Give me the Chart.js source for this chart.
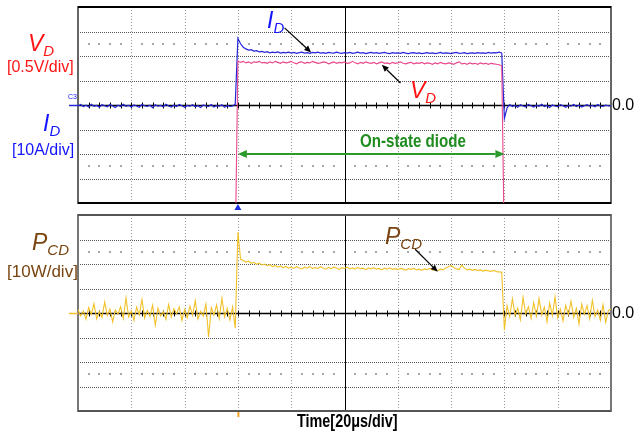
<!DOCTYPE html>
<html>
<head>
<meta charset="utf-8">
<script src="https://cdn.jsdelivr.net/npm/chart.js@4.4.1/dist/chart.umd.min.js"></script>
<style>
  body { margin: 0; background: #fff; }
  #wrap { position: relative; width: 635px; height: 436px; font-family: "Liberation Sans", Arial, sans-serif; }
  #wrap canvas { position: absolute; left: 0; }
  .lbl { position: absolute; white-space: nowrap; line-height: 1; }
  .sym { font-style: italic; font-size: 23px; }
  .sym sub { font-size: 15px; vertical-align: -5px; }
  .unit { font-size: 16px; }
  .red { color: #ff1414; }
  .blue { color: #1414ff; }
  .brown { color: #7a4510; }
  .zero { font-size: 16px; color: #000; }
  .tiny { font-size: 7px; }
  .narrow { transform: scaleX(0.84); transform-origin: 0 0; }
  #onstate { color: #1e8c1e; font-weight: bold; font-size: 18px; }
  #time { font-weight: bold; font-size: 18px; color: #000; transform: scaleX(0.8); }
</style>
</head>
<body>
<div id="wrap">
  <canvas id="topScope" width="635" height="212" style="top:0"></canvas>
  <canvas id="botScope" width="635" height="224" style="top:212px"></canvas>

  <div class="lbl sym red" style="left:28px;top:32px">V<sub>D</sub></div>
  <div class="lbl unit red" style="left:7px;top:59px">[0.5V/div]</div>
  <div class="lbl sym blue" style="left:43px;top:112px">I<sub>D</sub></div>
  <div class="lbl unit blue" style="left:12px;top:142px">[10A/div]</div>
  <div class="lbl tiny blue" style="left:68px;top:93px">C3</div>

  <div class="lbl sym brown" style="left:32px;top:231px">P<sub>CD</sub></div>
  <div class="lbl unit brown" style="left:7px;top:263px;font-size:17px">[10W/div]</div>

  <div class="lbl sym blue" style="left:267px;top:9px">I<sub>D</sub></div>
  <div class="lbl sym red" style="left:410px;top:79px">V<sub>D</sub></div>
  <div class="lbl sym brown" style="left:385px;top:225px">P<sub>CD</sub></div>
  <div class="lbl narrow" id="onstate" style="left:360px;top:132px">On-state diode</div>

  <div class="lbl zero" style="left:612px;top:97px">0.0</div>
  <div class="lbl zero" style="left:612px;top:305px">0.0</div>
  <div class="lbl narrow" id="time" style="left:297px;top:412px">Time[20μs/div]</div>
</div>

<script>
// scope record, one sample per microsecond, 0..200 us (10 div x 20 us)
const STEP_US = 1;

// diode current I_D [A]
const iD = [
  -0.4, 0.2, -0.6, -0.1, -0.8, 0.3, -0.5, -0.2, -0.9, 0.1,
  -0.3, -0.7, 0.2, -0.4, -1.0, -0.1, -0.6, 0.3, -0.5, -0.2,
  -0.8, 0.0, -0.4, -0.9, 0.2, -0.3, -0.6, -0.1, -1.1, 0.1,
  -0.5, -0.2, -0.7, 0.3, -0.4, -0.8, -0.1, -0.6, 0.2, -0.3,
  -0.9, -0.2, -0.5, 0.1, -0.7, -0.3, -1.0, 0.0, -0.4, -0.6,
  0.2, -0.8, -0.3, -0.5, 0.1, -0.9, -0.2, -0.6, -0.4, 0.3,
  27.2, 25.0, 23.6, 22.9, 22.4, 22.6, 22.0, 22.2, 21.7, 21.9,
  21.5, 21.8, 21.3, 21.6, 21.4, 21.7, 21.2, 21.5, 21.3, 21.6,
  21.2, 21.5, 21.1, 21.4, 21.6, 21.2, 21.4, 21.1, 21.5, 21.3,
  21.6, 21.2, 21.4, 21.1, 21.5, 21.3, 21.2, 21.6, 21.3, 21.1,
  21.4, 21.2, 21.5, 21.1, 21.3, 21.6, 21.2, 21.4, 21.0, 21.3,
  21.5, 21.2, 21.4, 21.1, 21.3, 21.5, 21.2, 21.0, 21.4, 21.2,
  21.3, 21.1, 21.5, 21.2, 21.0, 21.3, 21.4, 21.1, 21.3, 21.0,
  21.2, 21.4, 21.1, 21.3, 21.0, 21.2, 21.5, 21.1, 21.3, 21.2,
  21.0, 21.3, 21.5, 21.1, 21.2, 21.4, 21.0, 21.2, 21.3, 21.1,
  21.4, 21.2, 21.3, 21.1, 21.5, 21.2, 21.4, 21.3, 21.6, 21.2,
  -5.5, -1.2, 0.2, -0.6, -0.2, -0.9, 0.1, -0.4, -0.7, 0.2,
  -0.3, -0.8, -0.1, -0.5, 0.3, -0.6, -0.2, -1.0, 0.0, -0.4,
  -0.7, 0.1, -0.3, -0.9, -0.2, -0.5, 0.2, -0.6, -0.1, -0.8,
  -0.3, 0.1, -0.5, -0.2, -0.7, 0.2, -0.4, -0.6, -0.1, -0.3,
  -0.5
];

// diode voltage V_D [V]; blocking voltage is far below the screen
const vD = [
  -3.0, -3.0, -3.0, -3.0, -3.0, -3.0, -3.0, -3.0, -3.0, -3.0,
  -3.0, -3.0, -3.0, -3.0, -3.0, -3.0, -3.0, -3.0, -3.0, -3.0,
  -3.0, -3.0, -3.0, -3.0, -3.0, -3.0, -3.0, -3.0, -3.0, -3.0,
  -3.0, -3.0, -3.0, -3.0, -3.0, -3.0, -3.0, -3.0, -3.0, -3.0,
  -3.0, -3.0, -3.0, -3.0, -3.0, -3.0, -3.0, -3.0, -3.0, -3.0,
  -3.0, -3.0, -3.0, -3.0, -3.0, -3.0, -3.0, -3.0, -3.0, -3.0,
  0.90, 0.87, 0.89, 0.86, 0.88, 0.85, 0.88, 0.87, 0.89, 0.86,
  0.87, 0.85, 0.88, 0.86, 0.89, 0.87, 0.85, 0.88, 0.86, 0.87,
  0.89, 0.86, 0.84, 0.87, 0.88, 0.85, 0.87, 0.86, 0.89, 0.87,
  0.85, 0.86, 0.88, 0.87, 0.84, 0.86, 0.88, 0.85, 0.87, 0.86,
  0.88, 0.85, 0.86, 0.89, 0.86, 0.84, 0.87, 0.85, 0.88, 0.86,
  0.85, 0.87, 0.84, 0.86, 0.88, 0.85, 0.86, 0.84, 0.87, 0.85,
  0.86, 0.88, 0.85, 0.84, 0.86, 0.87, 0.84, 0.86, 0.85, 0.87,
  0.84, 0.86, 0.85, 0.83, 0.86, 0.84, 0.87, 0.85, 0.84, 0.86,
  0.85, 0.83, 0.86, 0.88, 0.84, 0.85, 0.83, 0.86, 0.84, 0.85,
  0.83, 0.86, 0.84, 0.85, 0.83, 0.85, 0.84, 0.83, 0.82, 0.80,
  -3.0, -3.0, -3.0, -3.0, -3.0, -3.0, -3.0, -3.0, -3.0, -3.0,
  -3.0, -3.0, -3.0, -3.0, -3.0, -3.0, -3.0, -3.0, -3.0, -3.0,
  -3.0, -3.0, -3.0, -3.0, -3.0, -3.0, -3.0, -3.0, -3.0, -3.0,
  -3.0, -3.0, -3.0, -3.0, -3.0, -3.0, -3.0, -3.0, -3.0, -3.0,
  -3.0
];

// conduction loss P_CD [W]
const pCD = [
  1.5, -1.2, 0.8, -2.5, 2.2, -0.6, 3.8, -2.4, 0.5, -1.8,
  4.5, -1.0, 1.6, -3.6, 1.2, -0.4, 2.6, -2.2, 6.2, -1.5,
  0.9, -3.0, 2.4, -0.8, 5.5, -2.0, 1.0, -1.4, 3.2, -5.0,
  2.0, -1.2, 0.6, -2.6, 3.4, -1.6, 1.8, -0.3, 2.5, -3.0,
  1.4, -1.9, 2.8, -1.0, 5.0, -2.4, 0.7, -1.3, 3.6, -9.8,
  2.2, -0.9, 3.3, -2.3, 6.0, -1.6, 1.9, -2.8, 2.4, -6.2,
  33.0, 22.0, 21.4, 20.8, 21.2, 20.3, 20.7, 19.9, 20.4, 19.6,
  20.0, 19.3, 19.7, 18.9, 19.4, 18.7, 19.2, 18.5, 19.0, 18.3,
  18.8, 18.2, 18.9, 18.4, 18.0, 18.7, 18.3, 19.0, 18.1, 18.6,
  18.2, 18.9, 18.4, 17.9, 18.6, 18.1, 18.8, 18.3, 17.8, 18.5,
  18.2, 18.7, 18.0, 18.4, 17.9, 18.6, 18.1, 18.3, 17.7, 18.4,
  18.0, 18.5, 17.9, 18.2, 17.6, 18.3, 17.9, 18.4, 17.8, 18.1,
  17.7, 18.2, 17.9, 17.5, 18.1, 17.8, 18.3, 17.6, 17.9, 17.4,
  18.0, 17.7, 18.2, 17.5, 17.8, 17.3, 17.9, 17.6, 18.4, 18.9,
  19.4, 18.6, 18.0, 17.7, 19.5, 18.3, 17.6, 17.9, 17.4, 17.8,
  17.3, 17.6, 17.1, 17.5, 17.2, 17.0, 17.4, 16.9, 16.8, 16.6,
  -7.0, 3.0, -1.5, 5.8, -1.0, 2.0, -2.8, 6.4, -0.5, 2.6,
  -2.2, 4.2, -1.2, 5.9, -0.8, 2.4, -3.6, 4.0, -1.0, 6.6,
  -2.0, 1.6, -3.2, 3.2, -0.7, 4.8, -1.8, 1.9, -4.5, 3.6,
  -0.5, 3.0, -2.4, 5.2, -1.4, 1.2, -3.0, 3.4, -3.8, 1.0,
  1.6
];

const time = iD.map((_, i) => i * STEP_US);
const pts = arr => arr.map((y, i) => ({ x: time[i], y }));

const T_ON = 60, T_OFF = 160;

// graticule, channel markers and annotation arrows
const scopePlugin = {
  id: 'scope',
  beforeDatasetsDraw(chart, args, opts) {
    const { ctx, chartArea: a, scales } = chart;
    const x = scales.x, y = scales[opts.yAxis];
    const divY = opts.divY;
    ctx.save();
    // vertical division lines
    ctx.setLineDash([1, 2]);
    ctx.strokeStyle = '#9a9a9a';
    ctx.lineWidth = 1;
    for (let t = 20; t < 200; t += 20) {
      if (t === 100) continue;
      const px = Math.round(x.getPixelForValue(t)) + 0.5;
      ctx.beginPath(); ctx.moveTo(px, a.top); ctx.lineTo(px, a.bottom); ctx.stroke();
    }
    // horizontal division lines
    ctx.setLineDash([1, 1]);
    ctx.strokeStyle = '#555';
    for (let k = -3; k <= 3; k++) {
      if (k === 0) continue;
      const py = Math.round(y.getPixelForValue(k * divY)) + 0.5;
      ctx.beginPath(); ctx.moveTo(a.left, py); ctx.lineTo(a.right, py); ctx.stroke();
    }
    ctx.setLineDash([]);
    // rows of sub-division dots
    ctx.fillStyle = '#a8a8a8';
    [-2.5, 2.5].forEach(k => {
      const py = Math.round(y.getPixelForValue(k * divY));
      for (let t = 4; t < 200; t += 4) {
        if (t % 20 === 0) continue;
        ctx.fillRect(Math.round(x.getPixelForValue(t)) - 1, py - 1, 2, 2);
      }
    });
    // centre cross with ticks
    ctx.strokeStyle = '#000';
    ctx.lineWidth = 1;
    const cx = Math.round(x.getPixelForValue(100)) + 0.5;
    ctx.beginPath(); ctx.moveTo(cx, a.top); ctx.lineTo(cx, a.bottom); ctx.stroke();
    const cy = Math.round(y.getPixelForValue(0)) + 0.5;
    ctx.lineWidth = 1.6;
    ctx.beginPath(); ctx.moveTo(a.left, cy); ctx.lineTo(a.right, cy); ctx.stroke();
    ctx.lineWidth = 1;
    for (let t = 4; t < 200; t += 4) {
      const px = Math.round(x.getPixelForValue(t)) + 0.5;
      ctx.beginPath(); ctx.moveTo(px, cy - 3); ctx.lineTo(px, cy + 3); ctx.stroke();
    }
    // frame
    ctx.strokeStyle = opts.frame;
    ctx.lineWidth = 2;
    ctx.strokeRect(a.left, a.top, a.right - a.left, a.bottom - a.top);
    ctx.strokeStyle = opts.edge;
    ctx.beginPath();
    ctx.moveTo(a.left, a.top); ctx.lineTo(a.right, a.top);
    ctx.moveTo(a.left, a.bottom); ctx.lineTo(a.right, a.bottom);
    ctx.stroke();
    // channel ground marker
    ctx.strokeStyle = opts.marker;
    ctx.lineWidth = 1.5;
    ctx.beginPath(); ctx.moveTo(a.left - 9, cy); ctx.lineTo(a.left, cy); ctx.stroke();
    ctx.restore();
  },
  afterDatasetsDraw(chart, args, opts) {
    const { ctx, chartArea: a, scales } = chart;
    const x = scales.x, y = scales[opts.yAxis];
    ctx.save();
    const head = (fx, fy, tx, ty, len, wid) => {
      const ang = Math.atan2(ty - fy, tx - fx);
      ctx.beginPath();
      ctx.moveTo(tx, ty);
      ctx.lineTo(tx - len * Math.cos(ang) + wid * Math.sin(ang), ty - len * Math.sin(ang) - wid * Math.cos(ang));
      ctx.lineTo(tx - len * Math.cos(ang) - wid * Math.sin(ang), ty - len * Math.sin(ang) + wid * Math.cos(ang));
      ctx.closePath();
      ctx.fill();
    };
    (opts.arrows || []).forEach(ar => {
      const fx = x.getPixelForValue(ar.from[0]), fy = y.getPixelForValue(ar.from[1]);
      const tx = x.getPixelForValue(ar.to[0]), ty = y.getPixelForValue(ar.to[1]);
      ctx.strokeStyle = ar.color; ctx.fillStyle = ar.color;
      ctx.lineWidth = ar.width;
      const ang = Math.atan2(ty - fy, tx - fx);
      const inset = ar.double ? ar.len : 0;
      ctx.beginPath();
      ctx.moveTo(fx + Math.cos(ang) * inset, fy + Math.sin(ang) * inset);
      ctx.lineTo(tx - Math.cos(ang) * ar.len, ty - Math.sin(ang) * ar.len);
      ctx.stroke();
      head(fx, fy, tx, ty, ar.len, ar.wid);
      if (ar.double) head(tx, ty, fx, fy, ar.len, ar.wid);
    });
    // trigger marker
    const tx = x.getPixelForValue(T_ON);
    ctx.fillStyle = opts.trigColor;
    if (opts.trig === 'triangle') {
      ctx.beginPath();
      ctx.moveTo(tx, a.bottom + 1); ctx.lineTo(tx - 3.5, a.bottom + 7); ctx.lineTo(tx + 3.5, a.bottom + 7);
      ctx.closePath(); ctx.fill();
    } else {
      ctx.fillRect(tx - 0.5, a.bottom + 1, 2, 5);
    }
    ctx.restore();
  }
};

const baseOpts = (padding, yScales, scope) => ({
  responsive: false,
  animation: false,
  events: [],
  layout: { padding },
  elements: { point: { radius: 0 }, line: { tension: 0, borderWidth: 1.2 } },
  scales: Object.assign({ x: { type: 'linear', min: 0, max: 200, display: false } }, yScales),
  plugins: { legend: { display: false }, tooltip: { enabled: false }, scope }
});

new Chart(document.getElementById('topScope'), {
  type: 'line',
  plugins: [scopePlugin],
  data: {
    datasets: [
      { label: 'V_D', data: pts(vD), yAxisID: 'yV', borderColor: '#e8488c', borderWidth: 1.1 },
      { label: 'I_D', data: pts(iD), yAxisID: 'yI', borderColor: '#2626d8', borderWidth: 1.2 }
    ]
  },
  options: baseOpts({ left: 78, right: 24, top: 7, bottom: 9 }, {
    yI: { min: -40, max: 40, display: false },
    yV: { min: -2, max: 2, display: false }
  }, {
    yAxis: 'yI', divY: 10, frame: '#666', edge: '#000', marker: '#2626d8',
    trig: 'triangle', trigColor: '#1a2ee0',
    arrows: [
      { from: [77.5, 31.5], to: [87.5, 21.4], color: '#000', width: 1.2, len: 7, wid: 3 },
      { from: [121, 9.0], to: [114, 16.4], color: '#000', width: 1.2, len: 7, wid: 3 },
      { from: [T_ON, -20], to: [T_OFF, -20], color: '#2a9a2a', width: 1.8, len: 9, wid: 4, double: true }
    ]
  })
});

new Chart(document.getElementById('botScope'), {
  type: 'line',
  plugins: [scopePlugin],
  data: {
    datasets: [
      { label: 'P_CD', data: pts(pCD), yAxisID: 'yP', borderColor: '#f2c12a', borderWidth: 1.1 }
    ]
  },
  options: baseOpts({ left: 78, right: 24, top: 3, bottom: 25 }, {
    yP: { min: -40, max: 40, display: false }
  }, {
    yAxis: 'yP', divY: 10, frame: '#777', edge: '#555', marker: '#f2c12a',
    trig: 'tick', trigColor: '#f0a020',
    arrows: [
      { from: [126.5, 26.0], to: [135, 16.8], color: '#000', width: 1.2, len: 7, wid: 3 }
    ]
  })
});
</script>
</body>
</html>
